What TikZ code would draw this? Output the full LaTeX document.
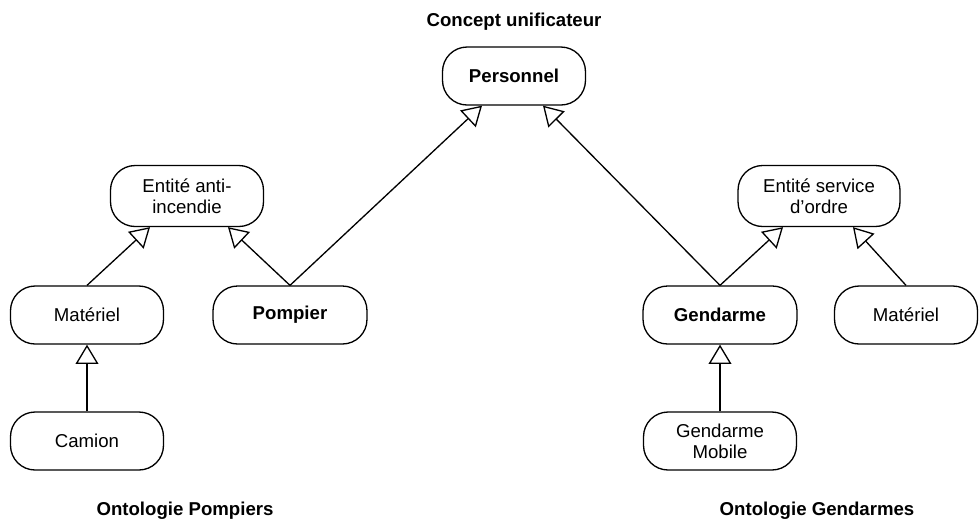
\documentclass[tikz,border=0pt]{standalone}
\usepackage{fontspec}
\setmainfont{Liberation Sans}
\usepackage{tikz}
\usetikzlibrary{arrows.meta, calc}

\begin{document}
\begin{tikzpicture}[x=0.02cm, y=-0.02cm, line width=0.75pt,
                    >={Triangle[open, length=11pt, width=13pt, fill=white]},
                    concept/.style={draw, rounded corners=14pt, align=center, minimum height=1.16cm, inner sep=2pt, font=\fontsize{10.6}{11.8}\selectfont},
                    title/.style={font=\fontsize{10.6}{11.8}\selectfont\bfseries}]
                      \useasboundingbox (0,0) rectangle (979,522);

                      % unifying concept
                      \node[title] (unif) at (514,22) {Concept unificateur};
                      \node[concept, minimum width=2.86cm, font=\fontsize{10.6}{11.8}\selectfont\bfseries] (personnel) at (514,76) {Personnel};

                      % ontology of firemen
                      \node[concept, minimum width=3.06cm, minimum height=1.22cm] (antiinc) at (187,196) {Entité anti-\\incendie};
                      \node[concept, minimum width=3.06cm] (materielP) at (87,315) {Matériel};
                      \node[concept, minimum width=3.08cm, font=\fontsize{10.6}{11.8}\selectfont\bfseries] (pompier) at (290,315) {Pompier};
                      \node[concept, minimum width=3.06cm] (camion) at (87,441) {Camion};
                      \node[title] (ontoP) at (185,511) {Ontologie Pompiers};

                      % ontology of gendarmes
                      \node[concept, minimum width=3.24cm, minimum height=1.22cm] (serviceord) at (819,196) {Entité service\\d'ordre};
                      \node[concept, minimum width=3.08cm, font=\fontsize{10.6}{11.8}\selectfont\bfseries] (gendarme) at (720,315) {Gendarme};
                      \node[concept, minimum width=2.86cm] (materielG) at (906,315) {Matériel};
                      \node[concept, minimum width=3.06cm] (mobile) at (720,441) {Gendarme\\Mobile};
                      \node[title] (ontoG) at (817,511) {Ontologie Gendarmes};

                      %generalisation links
                      \draw[->] (pompier.north) -- ($(personnel.south)+(-32,0)$);
                      \draw[->] (gendarme.north) -- ($(personnel.south)+(29,0)$);
                      \draw[->] (materielP.north) -- ($(antiinc.south)+(-37,0)$);
                      \draw[->] (pompier.north) -- ($(antiinc.south)+(41,0)$);
                      \draw[->] (camion.north) -- (materielP.south);
                      \draw[->] (gendarme.north) -- ($(serviceord.south)+(-36,0)$);
                      \draw[->] (materielG.north) -- ($(serviceord.south)+(34,0)$);
                      \draw[->] (mobile.north) -- (gendarme.south);

\end{tikzpicture}
\end{document}
